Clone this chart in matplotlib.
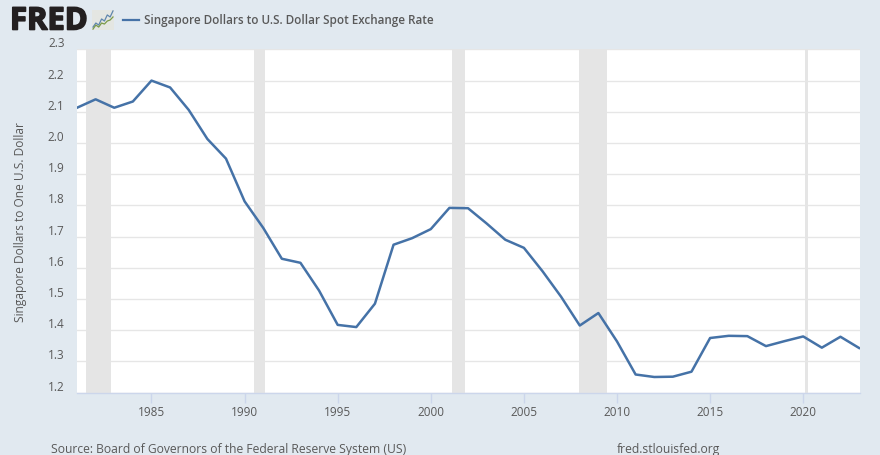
import matplotlib
matplotlib.use('Agg')
import matplotlib.pyplot as plt
import matplotlib.patheffects as pe
import numpy as np

plt.rcParams['font.family'] = ['Open Sans', 'DejaVu Sans']

years = list(range(1981, 2024))
rate = [2.113, 2.14, 2.113, 2.133, 2.2, 2.178, 2.106, 2.013, 1.95, 1.813,
        1.728, 1.629, 1.616, 1.527, 1.417, 1.41, 1.485, 1.674, 1.695, 1.724,
        1.792, 1.791, 1.742, 1.69, 1.664, 1.589, 1.507, 1.415, 1.455, 1.364,
        1.258, 1.25, 1.251, 1.267, 1.375, 1.382, 1.381, 1.349, 1.365, 1.38,
        1.344, 1.379, 1.343]
recessions = [(1981.5, 1982.85), (1990.48, 1991.12), (2001.16, 2001.82),
              (2007.97, 2009.44), (2020.1, 2020.27)]
yticks = [1.2, 1.3, 1.4, 1.5, 1.6, 1.7, 1.8, 1.9, 2.0, 2.1, 2.2, 2.3]
xticks = [1985, 1990, 1995, 2000, 2005, 2010, 2015, 2020]

# little logo lines
logo_blue = [1, 3, 2, 5, 4, 7, 6, 9]
logo_green = [0, 2, 1, 3, 2.5, 4, 4.5, 6]

W, H = 880, 456
bg = '#e1e9f0'
txt = '#595959'

fig = plt.figure(figsize=(W / 100, H / 100), dpi=100, facecolor=bg)
ax = fig.add_axes([77 / W, 1 - 393.6 / H, (860 - 77) / W, (393.6 - 50.4) / H])

for start, end in recessions:
    ax.axvspan(start, end, color='#e5e5e5', lw=0, zorder=1)
ax.plot(years, rate, color='#4572a7', lw=1.8, zorder=3, solid_joinstyle='round')

ax.set_xlim(1981, 2023.05)
ax.set_ylim(1.2, 2.3)
ax.set_yticks(yticks)
ax.set_xticks(xticks)
ax.set_xticklabels([str(x) for x in xticks])
ax.grid(axis='y', color='#e6e6e6', lw=1, zorder=2)
ax.set_axisbelow(True)
for s in ['top', 'right', 'left']:
    ax.spines[s].set_visible(False)
ax.spines['bottom'].set_color('#ccd6eb')
ax.spines['bottom'].set_linewidth(1)
ax.tick_params(axis='x', length=7, width=1, color='#ccd6eb', labelcolor=txt,
               labelsize=8.5, pad=2)
ax.tick_params(axis='y', length=0, labelcolor=txt, labelsize=8.5, pad=9)
for lab in ax.get_yticklabels():
    lab.set_verticalalignment('bottom')
ax.set_ylabel('Singapore Dollars to One U.S. Dollar', color=txt, fontsize=8.6, labelpad=15)

# header
fig.text(10 / W, 1 - 30.5 / H, 'FRED', fontsize=22.3, fontweight='bold', color='#231f20',
         va='baseline', path_effects=[pe.withStroke(linewidth=1.2, foreground='#231f20')])
icon = fig.add_axes([92 / W, 1 - 31 / H, 22 / W, 20 / H], facecolor='#e4e6e2')
icon.plot(logo_blue, color='#5f86ad', lw=0.9)
icon.plot(logo_green, color='#7a9a48', lw=0.9)
icon.set_xticks([])
icon.set_yticks([])
for s in icon.spines.values():
    s.set_visible(False)
fig.add_artist(plt.Line2D([123 / W, 139 / W], [1 - 20.5 / H] * 2, color='#4572a7', lw=1.6))
fig.text(144 / W, 1 - 20.5 / H, 'Singapore Dollars to U.S. Dollar Spot Exchange Rate',
         fontsize=8.4, fontweight='semibold', color=txt, va='center')

# footer
fig.text(51 / W, 1 - 450 / H, 'Source: Board of Governors of the Federal Reserve System (US)',
         fontsize=8.7, color=txt, va='center')
fig.text(617 / W, 1 - 450 / H, 'fred.stlouisfed.org', fontsize=8.7, color=txt, va='center')

fig.savefig('out.png', dpi=100, facecolor=bg)
